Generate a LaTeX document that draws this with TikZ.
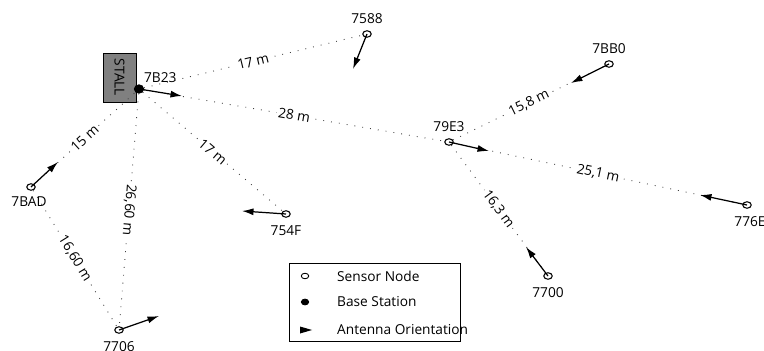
\documentclass[tikz,border=0pt]{standalone}
\usepackage{fontspec}
\setmainfont{Open Sans}
\usetikzlibrary{shapes.geometric,arrows.meta}
\tikzset{
	sensor/.style={draw, ellipse, fill=white, line width=0.6pt, minimum width=0.17cm, minimum height=0.13cm, inner sep=0pt},
	basestation/.style={draw, ellipse, fill=black, minimum width=0.19cm, minimum height=0.17cm, inner sep=0pt},
	link/.style={black!75, line width=0.5pt, dash pattern=on 0.5pt off 4pt},
	dist/.style={sloped, fill=white, inner sep=1pt, text=black},
	antenna/.style={line width=0.7pt, -{Latex[length=2.3mm,width=1.4mm]}}
}

\begin{document}
\begin{tikzpicture}[x=0.02cm, y=-0.02cm, every node/.style={font=\fontsize{7.8}{9}\selectfont}]
			%%%%% START %%%%%
			
			\useasboundingbox (0, 0) rectangle (764, 351);
			
			% stall
			\draw[fill=black!50] (103, 53) rectangle (136, 102);
			\node[rotate=-90] (stall) at (119.5, 77.5) {STALL};
			
			% nodes
			\node[basestation] (n7B23) at (139, 89) {};
			\node[anchor=south west, inner sep=1pt] (t7B23) at (142, 85) {7B23};
			\node[sensor, label={[label distance=0pt]above:7588}] (n7588) at (367, 34) {};
			\node[sensor, label={[label distance=0pt]above:7BB0}] (n7BB0) at (609, 64) {};
			\node[sensor, label={[label distance=0pt]above:79E3}] (n79E3) at (449, 142) {};
			\node[sensor, label={[label distance=1pt, xshift=0.06cm]below:776E}] (n776E) at (747, 205) {};
			\node[sensor, label={[label distance=1pt]below:7700}] (n7700) at (548, 276) {};
			\node[sensor, label={[label distance=1pt]below:754F}] (n754F) at (286, 214) {};
			\node[sensor, label={[label distance=0pt, xshift=-0.04cm]below:7BAD}] (n7BAD) at (31, 187) {};
			\node[sensor, label={[label distance=1pt]below:7706}] (n7706) at (119, 330) {};
			
			% links
			\draw[link] (n7B23) -- node[dist] {17 m} (n7588);
			\draw[link] (n7B23) -- node[dist] {28 m} (n79E3);
			\draw[link] (n7B23) -- node[dist] {17 m} (n754F);
			\draw[link] (n7B23) -- node[dist, allow upside down] {26,60 m} (n7706);
			\draw[link] (n7BAD) -- node[dist] {15 m} (n7B23);
			\draw[link] (n7BAD) -- node[dist] {16,60 m} (n7706);
			\draw[link] (n79E3) -- node[dist] {15,8 m} (n7BB0);
			\draw[link] (n79E3) -- node[dist] {25,1 m} (n776E);
			\draw[link] (n79E3) -- node[dist] {16,3 m} (n7700);
			
			% antenna orientation
			\coordinate (a7B23) at (182, 96);
			\coordinate (a7588) at (353, 69);
			\coordinate (a7BB0) at (571, 83);
			\coordinate (a79E3) at (489, 151);
			\coordinate (a776E) at (700, 195);
			\coordinate (a7700) at (526, 247);
			\coordinate (a754F) at (242, 211);
			\coordinate (a7BAD) at (58, 162);
			\coordinate (a7706) at (159, 316);
			\foreach \n in {7B23, 7588, 7BB0, 79E3, 776E, 7700, 754F, 7BAD, 7706}
				\draw[antenna] (n\n.center) -- (a\n);
			
			% legend
			\draw[line width=0.5pt] (289, 263) rectangle (460, 341);
			\node[sensor, line width=0.5pt, minimum width=0.15cm, minimum height=0.11cm] (lsensor) at (305, 276) {};
			\node[basestation, minimum width=0.15cm, minimum height=0.12cm] (lbase) at (305, 302) {};
			\fill (300, 326.5) -- (312, 330) -- (300, 333.5) -- cycle;
			\node[anchor=west] (tsensor) at (331, 276) {Sensor Node};
			\node[anchor=west] (tbase) at (331, 302) {Base Station};
			\node[anchor=west] (tant) at (331, 330) {Antenna Orientation};
			
			%%%%% END %%%%%
		\end{tikzpicture}
\end{document}
